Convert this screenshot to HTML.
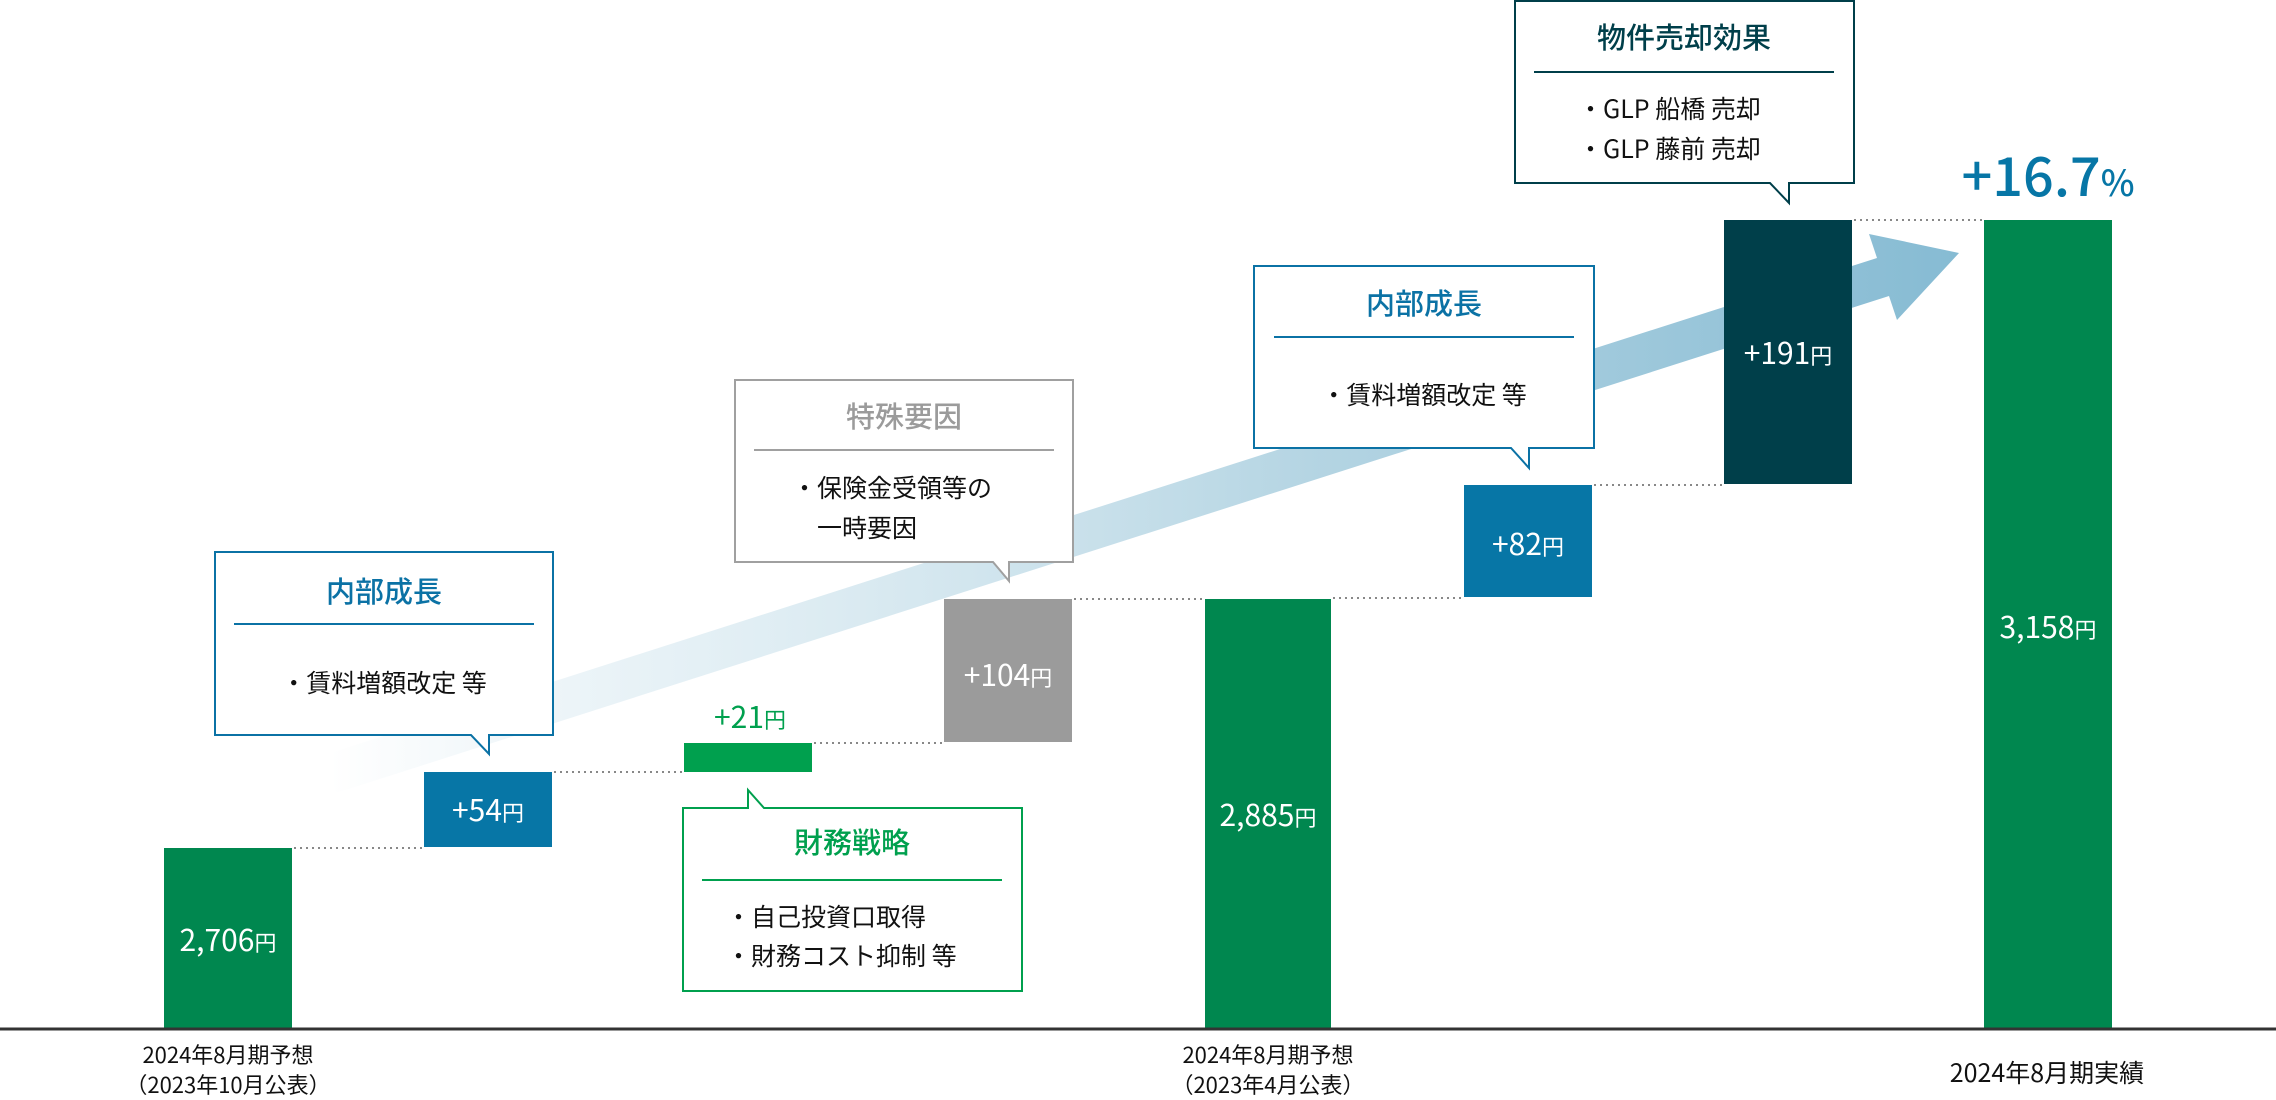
<!DOCTYPE html>
<html><head><meta charset="utf-8"><style>
html,body{margin:0;padding:0;background:#fff}
svg{display:block}
text{font-family:"Noto Sans CJK JP","Liberation Sans",sans-serif}
</style></head><body>
<svg width="2276" height="1100" viewBox="0 0 2276 1100" xmlns="http://www.w3.org/2000/svg">
<defs>
<linearGradient id="ag" gradientUnits="userSpaceOnUse" x1="330" y1="0" x2="1960" y2="0">
<stop offset="0" stop-color="#cfe3ec" stop-opacity="0"/>
<stop offset="0.2" stop-color="#d6e8f0" stop-opacity="0.6"/>
<stop offset="0.6" stop-color="#b5d5e3"/>
<stop offset="1" stop-color="#86bbd3"/>
</linearGradient>
</defs>
<polygon points="336,793 1889,296 1897,320 1959,253 1869,234 1877,258 324,755" fill="url(#ag)"/>

<g stroke="#888" stroke-width="2" stroke-dasharray="2,4" fill="none">
<line x1="294" y1="848" x2="422" y2="848"/>
<line x1="554" y1="772" x2="682" y2="772"/>
<line x1="814" y1="743" x2="942" y2="743"/>
<line x1="1074" y1="599" x2="1203" y2="599"/>
<line x1="1333" y1="598" x2="1462" y2="598"/>
<line x1="1594" y1="485" x2="1722" y2="485"/>
<line x1="1854" y1="220" x2="1982" y2="220"/>
</g>

<rect x="164" y="848" width="128" height="181" fill="#00874f"/>
<rect x="424" y="772" width="128" height="75" fill="#0776a6"/>
<rect x="684" y="743" width="128" height="29" fill="#00a04e"/>
<rect x="944" y="599" width="128" height="143" fill="#9b9b9b"/>
<rect x="1205" y="599" width="126" height="430" fill="#00874f"/>
<rect x="1464" y="485" width="128" height="112" fill="#0776a6"/>
<rect x="1724" y="220" width="128" height="264" fill="#003f4a"/>
<rect x="1984" y="220" width="128" height="809" fill="#00874f"/>

<line x1="0" y1="1029" x2="2276" y2="1029" stroke="#333" stroke-width="3"/>

<g fill="#fff" text-anchor="middle" font-size="30">
<text x="228" y="951">2,706<tspan font-size="22">円</tspan></text>
<text x="488" y="821">+54<tspan font-size="22">円</tspan></text>
<text x="1008" y="686">+104<tspan font-size="22">円</tspan></text>
<text x="1268" y="826">2,885<tspan font-size="22">円</tspan></text>
<text x="1528" y="555">+82<tspan font-size="22">円</tspan></text>
<text x="1788" y="364">+191<tspan font-size="22">円</tspan></text>
<text x="2048" y="638">3,158<tspan font-size="22">円</tspan></text>
</g>
<text x="750" y="728" fill="#00a04e" text-anchor="middle" font-size="30">+21<tspan font-size="22">円</tspan></text>

<text x="2048" y="196" fill="#0776a6" text-anchor="middle" font-size="54" font-weight="500">+16.7<tspan font-size="36">%</tspan></text>

<path d="M215,552 H553 V735 H489 V754 L471,735 H215 Z" fill="#fff" stroke="#0b72a5" stroke-width="2"/>
<text x="384" y="602" fill="#0b72a5" text-anchor="middle" font-size="29" font-weight="500">内部成長</text>
<line x1="234" y1="624" x2="534" y2="624" stroke="#0b72a5" stroke-width="2"/>
<text x="384" y="692" fill="#111" text-anchor="middle" font-size="25">・賃料増額改定 等</text>

<path d="M683,808 H748 V790 L764,808 H1022 V991 H683 Z" fill="#fff" stroke="#00a04e" stroke-width="2"/>
<text x="852" y="853" fill="#00a04e" text-anchor="middle" font-size="29" font-weight="500">財務戦略</text>
<line x1="702" y1="880" x2="1002" y2="880" stroke="#00a04e" stroke-width="2"/>
<text x="726" y="926" fill="#111" font-size="25">・自己投資口取得</text>
<text x="726" y="965" fill="#111" font-size="25">・財務コスト抑制 等</text>

<path d="M735,380 H1073 V562 H1009 V581 L993,562 H735 Z" fill="#fff" stroke="#a0a0a0" stroke-width="2"/>
<text x="904" y="427" fill="#9b9b9b" text-anchor="middle" font-size="29" font-weight="500">特殊要因</text>
<line x1="754" y1="450" x2="1054" y2="450" stroke="#a0a0a0" stroke-width="2"/>
<text x="792" y="497" fill="#111" font-size="25">・保険金受領等の</text>
<text x="817" y="537" fill="#111" font-size="25">一時要因</text>

<path d="M1254,266 H1594 V448 H1529 V468 L1511,448 H1254 Z" fill="#fff" stroke="#0b72a5" stroke-width="2"/>
<text x="1424" y="314" fill="#0b72a5" text-anchor="middle" font-size="29" font-weight="500">内部成長</text>
<line x1="1274" y1="337" x2="1574" y2="337" stroke="#0b72a5" stroke-width="2"/>
<text x="1424" y="404" fill="#111" text-anchor="middle" font-size="25">・賃料増額改定 等</text>

<path d="M1515,1 H1854 V183 H1789 V203 L1770,183 H1515 Z" fill="#fff" stroke="#003f4a" stroke-width="2"/>
<text x="1684" y="48" fill="#003f4a" text-anchor="middle" font-size="29" font-weight="500">物件売却効果</text>
<line x1="1534" y1="72" x2="1834" y2="72" stroke="#003f4a" stroke-width="2"/>
<text x="1578" y="118" fill="#111" font-size="25">・GLP 船橋 売却</text>
<text x="1578" y="158" fill="#111" font-size="25">・GLP 藤前 売却</text>

<g fill="#111" text-anchor="middle" font-size="22">
<text x="228" y="1063">2024年8月期予想</text>
<text x="228" y="1093">（2023年10月公表）</text>
<text x="1268" y="1063">2024年8月期予想</text>
<text x="1268" y="1093">（2023年4月公表）</text>
<text x="2047" y="1082" font-size="25">2024年8月期実績</text>
</g>
</svg>
</body></html>
